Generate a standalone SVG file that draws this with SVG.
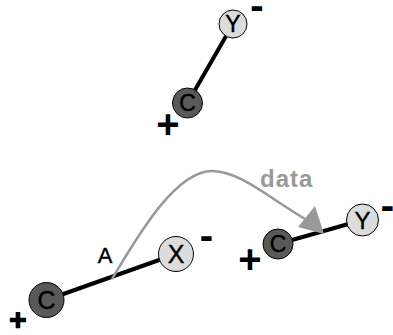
<svg xmlns="http://www.w3.org/2000/svg" width="393" height="335" viewBox="0 0 393 335">
  <style>
    .bond { stroke: #000; stroke-width: 4; stroke-linecap: round; }
    .c-node { fill: #595959; stroke: #000; stroke-width: 1; }
    .v-node { fill: #dcdcdc; stroke: #000; stroke-width: 1; }
    .letter { font-family: "Liberation Sans", Arial, sans-serif; fill: #000; text-anchor: middle; stroke: #000; stroke-width: 0.4; }
    .sm { font-size: 23px; }
    .md { font-size: 24px; }
    .lg { font-size: 25px; }
    .sign { font-family: "Liberation Sans", Arial, sans-serif; font-weight: bold; fill: #000; text-anchor: middle; }
    .plus { font-size: 40px; }
    .plus-low { font-size: 28px; font-weight: normal; stroke: #000; stroke-width: 2.5; }
    .minus { font-size: 14px; stroke: #000; stroke-width: 3.4; stroke-linejoin: miter; }
    .flow { fill: none; stroke: #999; stroke-width: 2.5; }
    .flow-label { font-family: "Liberation Sans", Arial, sans-serif; font-weight: bold; font-size: 24px; fill: #999; letter-spacing: 1px; }
    .mark { font-family: "Liberation Sans", Arial, sans-serif; font-size: 22px; fill: #000; text-anchor: middle; stroke: #000; stroke-width: 0.4; }
  </style>
  <rect width="393" height="335" fill="#fff"/>

  <!-- bonds and data flow -->
  <g id="connectors">
    <line class="bond" x1="187.5" y1="103" x2="233" y2="24"/>
    <line class="bond" x1="46.5" y1="300" x2="176" y2="254"/>
    <line class="bond" x1="278" y1="244" x2="362.5" y2="220"/>
    <path class="flow" d="M112,279 C136,239 175,170 213,171 C240,172 265,195 305,219"/>
    <polygon points="315,206 298,227 324,234" fill="#999"/>
    <text class="flow-label" x="260" y="187">data</text>
    <text class="mark" x="105" y="263">A</text>
  </g>

  <!-- upper pair -->
  <g id="top-y">
    <circle class="v-node" cx="233" cy="24" r="14"/>
    <text class="letter sm" x="233" y="32.2">Y</text>
    <text class="sign minus" x="257" y="13.2">–</text>
  </g>
  <g id="top-c">
    <circle class="c-node" cx="187.5" cy="103" r="15"/>
    <text class="letter sm" x="187.5" y="111.2">C</text>
    <text class="sign plus" x="168" y="138">+</text>
  </g>

  <!-- lower left pair -->
  <g id="left-c">
    <circle class="c-node" cx="46.5" cy="300" r="17.5"/>
    <text class="letter lg" x="46.5" y="309">C</text>
    <text class="sign plus-low" x="18" y="329">+</text>
  </g>
  <g id="left-x">
    <circle class="v-node" cx="176" cy="254" r="17.5"/>
    <text class="letter lg" x="176" y="263">X</text>
    <text class="sign minus" x="206.5" y="242.6">–</text>
  </g>

  <!-- lower right pair -->
  <g id="right-c">
    <circle class="c-node" cx="278" cy="244" r="15"/>
    <text class="letter sm" x="278" y="252.2">C</text>
    <text class="sign plus" x="250" y="273">+</text>
  </g>
  <g id="right-y">
    <circle class="v-node" cx="362.5" cy="220" r="16"/>
    <text class="letter md" x="362.5" y="228.6">Y</text>
    <text class="sign minus" x="387.5" y="212.6">–</text>
  </g>
</svg>
